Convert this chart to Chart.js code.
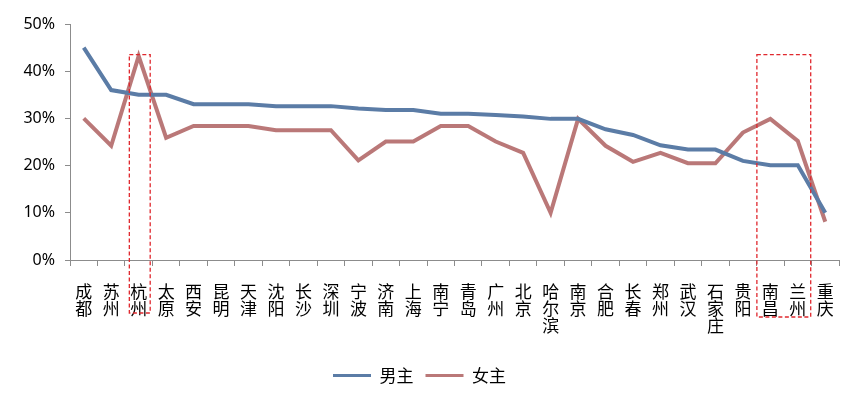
<!DOCTYPE html>
<html>
<head>
<meta charset="utf-8">
<script src="https://cdn.jsdelivr.net/npm/chart.js@4"></script>
<style>
  html, body { margin: 0; padding: 0; background: #fff; }
  #wrap { width: 860px; height: 396px; }
</style>
</head>
<body>
<div id="wrap"><canvas id="rankChart"></canvas></div>
<script>
const cities = ["成都", "苏州", "杭州", "太原", "西安", "昆明", "天津", "沈阳", "长沙", "深圳",
  "宁波", "济南", "上海", "南宁", "青岛", "广州", "北京", "哈尔滨", "南京", "合肥",
  "长春", "郑州", "武汉", "石家庄", "贵阳", "南昌", "兰州", "重庆"];
const maleShare = [45, 36, 35, 35, 33, 33, 33, 32.6, 32.6, 32.6,
  32.1, 31.8, 31.8, 31, 31, 30.7, 30.4, 29.9, 29.9, 27.7,
  26.5, 24.3, 23.4, 23.4, 21, 20.1, 20.1, 10];
const femaleShare = [30, 24.2, 43.2, 25.9, 28.4, 28.4, 28.4, 27.5, 27.5, 27.5,
  21.1, 25.1, 25.1, 28.4, 28.4, 25.1, 22.7, 10, 29.9, 24.2,
  20.8, 22.7, 20.5, 20.5, 27, 29.9, 25.2, 8.1];
const yTicks = [0, 10, 20, 30, 40, 50];
// highlighted city groups: [first, last, top value]
const highlights = [["杭州", "杭州", 43.5], ["南昌", "兰州", 43.5]];

const cjk = '"Noto Sans CJK SC", "Noto Sans", sans-serif';

// dashed red boxes round the highlighted cities
const highlightBoxes = {
  id: "highlightBoxes",
  afterDatasetsDraw(chart) {
    const { ctx, scales } = chart;
    const x = scales.x, y = scales.y;
    const step = x.getPixelForValue(1) - x.getPixelForValue(0);
    ctx.save();
    ctx.strokeStyle = "#e0282e";
    ctx.lineWidth = 1.3;
    ctx.setLineDash([4, 2.5]);
    highlights.forEach(([a, b, top], i) => {
      const left = x.getPixelForValue(cities.indexOf(a)) - step * (i === 0 ? 0.34 : 0.49);
      const right = x.getPixelForValue(cities.indexOf(b)) + step * (i === 0 ? 0.42 : 0.47);
      const t = y.getPixelForValue(top);
      const bottom = y.getPixelForValue(0) + (i === 0 ? 53 : 57);
      ctx.strokeRect(left, t, right - left, bottom - t);
    });
    ctx.restore();
  },
};

new Chart(document.getElementById("rankChart"), {
  type: "line",
  data: {
    labels: cities.map((c) => c.split("")),
    datasets: [
      {
        label: "男主",
        data: maleShare,
        borderColor: "#5b7ca6",
        backgroundColor: "#5b7ca6",
        borderWidth: 4,
        pointRadius: 0,
        tension: 0,
      },
      {
        label: "女主",
        data: femaleShare,
        borderColor: "rgba(180, 108, 108, 0.92)",
        backgroundColor: "rgba(180, 108, 108, 0.92)",
        borderWidth: 4,
        pointRadius: 0,
        tension: 0,
      },
    ],
  },
  options: {
    responsive: true,
    maintainAspectRatio: false,
    animation: false,
    layout: { padding: { top: 24, right: 21, bottom: 2, left: 0 } },
    plugins: {
      tooltip: { enabled: false },
      legend: {
        position: "bottom",
        labels: {
          font: { family: cjk, size: 17 },
          color: "#000",
          boxWidth: 38,
          boxHeight: 3,
          padding: 12,
          generateLabels(chart) {
            return Chart.defaults.plugins.legend.labels.generateLabels(chart).map((l) => ({
              ...l,
              lineWidth: 0,
            }));
          },
        },
      },
    },
    scales: {
      x: {
        offset: true,
        grid: { drawOnChartArea: false, offset: true, color: "#8c8c8c", tickLength: 6 },
        border: { color: "#8c8c8c" },
        ticks: {
          autoSkip: false,
          maxRotation: 0,
          minRotation: 0,
          padding: 17,
          color: "#000",
          font: { family: cjk, size: 17, lineHeight: 1.0 },
        },
        afterFit(scale) {
          scale.height = 95;
        },
      },
      y: {
        min: 0,
        max: 50,
        afterBuildTicks(scale) {
          scale.ticks = yTicks.map((v) => ({ value: v }));
        },
        grid: { drawOnChartArea: false, color: "#8c8c8c", tickLength: 5 },
        border: { color: "#8c8c8c" },
        ticks: {
          padding: 10,
          color: "#000",
          font: { family: '"Noto Sans", sans-serif', size: 16 },
          callback: (v) => v + "%",
        },
        afterFit(scale) {
          scale.width = 70;
        },
      },
    },
  },
  plugins: [highlightBoxes],
});
</script>
</body>
</html>
